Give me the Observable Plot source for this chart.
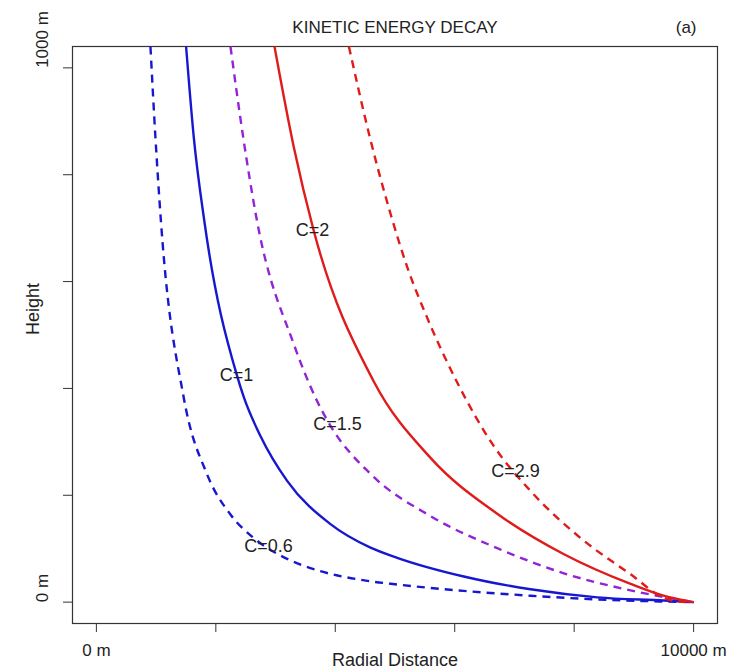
<!DOCTYPE html>
<html>
<head>
<meta charset="utf-8">
<script src="https://cdn.jsdelivr.net/npm/d3@7"></script>
<script src="https://cdn.jsdelivr.net/npm/@observablehq/plot@0.6"></script>
<style>
  html, body { margin: 0; padding: 0; background: #fff; }
  #chart { width: 733px; height: 670px; }
</style>
</head>
<body>
<div id="chart"></div>
<script>
// Tick positions and labels
const xTicks = [0, 2000, 4000, 6000, 8000, 10000];
const yTicks = [0, 200, 400, 600, 800, 1000];
const xTickLabels = [[0, "0 m"], [10000, "10000 m"]];
const yTickLabels = [[0, "0 m"], [1000, "1000 m"]];

// Series: radial distance (m) and height (m)
const c06_x = [905, 988, 1084, 1462, 1854, 2245, 2635, 3194, 3752, 4590, 5037, 6152, 7270, 8387, 10000];
const c06_h = [1040, 871, 708, 383, 239, 164, 120, 81, 58, 39, 33, 21, 12, 5, 0];

const c1_x = [1502, 1630, 1809, 2357, 2467, 2747, 3194, 3920, 4590, 5037, 6152, 7270, 8387, 9502, 10000];
const c1_h = [1040, 871, 712, 423, 384, 311, 227, 146, 102, 83, 48, 24, 9, 3, 0];

const c15_x = [2245, 2457, 2692, 3305, 3697, 3920, 4590, 5595, 6712, 7827, 8945, 10000];
const c15_h = [1040, 871, 712, 483, 376, 330, 240, 161, 101, 54, 22, 0];

const c2_x = [2982, 3305, 3635, 4640, 5595, 6717, 7822, 8945, 9497, 10000];
const c2_h = [1040, 852, 697, 414, 270, 165, 90, 34, 12, 0];

const c29_x = [4228, 4590, 4925, 5205, 5540, 6042, 6655, 7270, 8107, 8945, 9503, 9749, 10000];
const c29_h = [1040, 865, 727, 627, 532, 411, 292, 208, 120, 52, 8, 1, 0];

// Curve labels
const labelText = ["C=2", "C=1", "C=1.5", "C=2.9", "C=0.6"];
const labelX = [3618, 2345, 4037, 7019, 2881];
const labelH = [697, 425, 333, 245, 105];

const BLUE = "#1717cf", PURPLE = "#9224d6", RED = "#e01b1b";

const toRows = (xs, hs) => xs.map((x, i) => ({x, h: hs[i]}));
const labels = labelText.map((t, i) => ({t, x: labelX[i], h: labelH[i]}));

const lineOpts = (stroke, dashed) => ({
  x: "x", y: "h", stroke, strokeWidth: 2.4, curve: "monotone-x", clip: true,
  strokeDasharray: dashed ? "8,6" : null, strokeLinecap: "butt"
});

const chart = Plot.plot({
  width: 733,
  height: 670,
  marginLeft: 72,
  marginRight: 16,
  marginTop: 46,
  marginBottom: 47,
  style: { fontFamily: "'Liberation Sans', Arial, sans-serif", color: "#333", background: "#fff", overflow: "visible" },
  x: { domain: [-400, 10400], ticks: xTicks, tickSize: 9, tickFormat: () => "", label: null },
  y: { domain: [-40, 1040], ticks: yTicks, tickSize: 9, tickFormat: () => "", label: null },
  marks: [
    Plot.frame({ stroke: "#333", strokeWidth: 1.2 }),
    Plot.line(toRows(c06_x, c06_h), lineOpts(BLUE, true)),
    Plot.line(toRows(c1_x, c1_h), lineOpts(BLUE, false)),
    Plot.line(toRows(c15_x, c15_h), lineOpts(PURPLE, true)),
    Plot.line(toRows(c2_x, c2_h), lineOpts(RED, false)),
    Plot.line(toRows(c29_x, c29_h), lineOpts(RED, true)),
    Plot.text(labels, { x: "x", y: "h", text: "t", fontSize: 18, fill: "#222" }),
    Plot.text(xTickLabels, { x: d => d[0], text: d => d[1], frameAnchor: "bottom", dy: 32, fontSize: 17, fill: "#222" }),
    Plot.text(yTickLabels, { y: d => d[0], text: d => d[1], frameAnchor: "left", dx: -30, rotate: -90, fontSize: 17, fill: "#222" }),
    Plot.text(["Radial Distance"], { text: d => d, frameAnchor: "bottom", dy: 42, fontSize: 18, fill: "#222" }),
    Plot.text(["Height"], { text: d => d, frameAnchor: "left", dx: -39, rotate: -90, fontSize: 18, fill: "#222" }),
    Plot.text(["KINETIC ENERGY DECAY"], { text: d => d, frameAnchor: "top", dy: -26, fontSize: 17, fill: "#222" }),
    Plot.text(["(a)"], { text: d => d, frameAnchor: "top-right", dx: -21, dy: -26, fontSize: 17, fill: "#222" })
  ]
});

document.getElementById("chart").appendChild(chart);
</script>
</body>
</html>
